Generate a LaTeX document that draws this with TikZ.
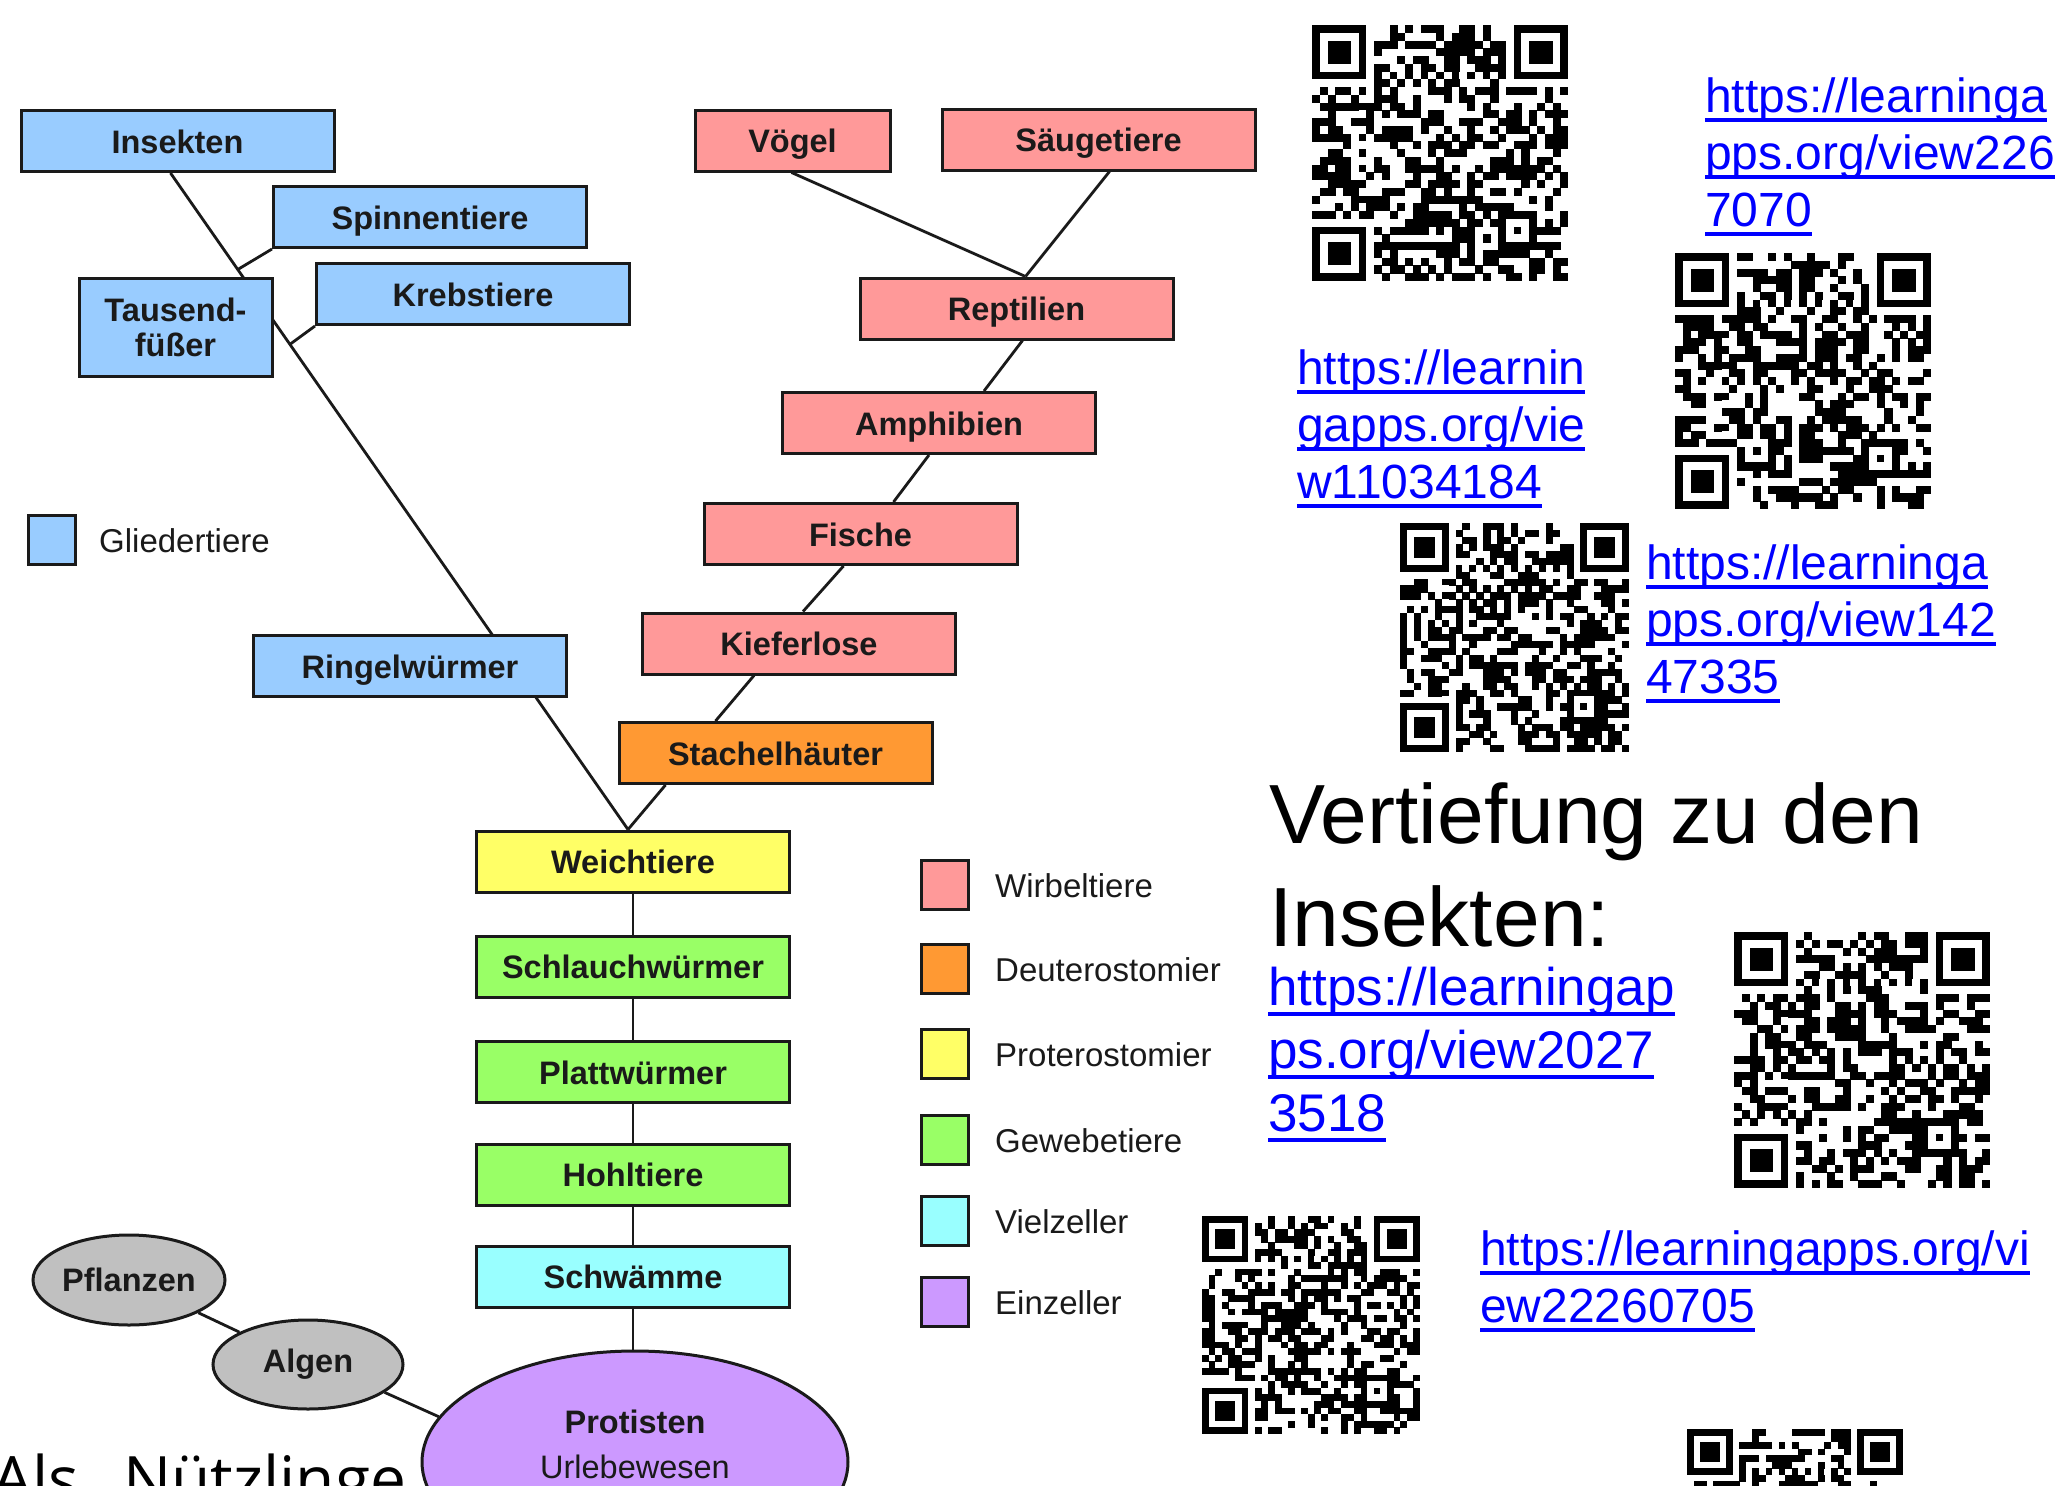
\documentclass[tikz,border=0pt]{standalone}
\usepackage{fontspec}
\setmainfont{Liberation Sans}
\newfontfamily\opensans{Open Sans}
\usetikzlibrary{shapes.geometric,backgrounds,calc}

\definecolor{cBlue}{HTML}{99CCFF}
\definecolor{cRed}{HTML}{FF9999}
\definecolor{cOrange}{HTML}{FF9933}
\definecolor{cYellow}{HTML}{FFFF66}
\definecolor{cGreen}{HTML}{99FF66}
\definecolor{cCyan}{HTML}{99FFFF}
\definecolor{cLilac}{HTML}{CC99FF}
\definecolor{cGray}{HTML}{C0C0C0}
\definecolor{cLink}{HTML}{0000FF}
\definecolor{cInk}{HTML}{1A1A1A}

\newcommand{\boxfont}{\fontsize{32.5}{35}\selectfont\bfseries}
\newcommand{\legfont}{\fontsize{33}{38}\selectfont}
\newcommand{\lk}[1]{\setbox0=\hbox{#1}\rlap{\rule[-0.2em]{\wd0}{0.07em}}\box0}

% pseudo QR code: x, y (top left), size, seed
\newcommand{\qrpattern}[4]{%
  \pgfmathsetmacro{\qm}{#3/33}%
  \begin{scope}[shift={(#1,#2)}, x=\qm pt, y=-\qm pt]
    \pgfmathsetseed{#4}%
    \foreach \i in {0,...,32}{\foreach \j in {0,...,32}{%
      \pgfmathtruncatemacro{\skipc}{((\i<8)&&(\j<8))||((\i<8)&&(\j>24))||((\i>24)&&(\j<8))||((\i>23)&&(\i<29)&&(\j>23)&&(\j<29))||(\i==6)||(\j==6)}%
      \ifnum\skipc=0
        \pgfmathtruncatemacro{\dk}{rnd<0.5}%
        \ifnum\dk=1 \fill (\j,\i) rectangle ++(1.04,1.04);\fi
      \fi}}
    \foreach \a/\b in {0/0,26/0,0/26}{%
      \fill (\a,\b) rectangle ++(7,7);
      \fill[white] (\a+1,\b+1) rectangle ++(5,5);
      \fill (\a+2,\b+2) rectangle ++(3,3);}
    \foreach \k in {8,10,...,24}{%
      \fill (\k,6) rectangle ++(1,1);
      \fill (6,\k) rectangle ++(1,1);}
    \fill (24,24) rectangle ++(5,5);
    \fill[white] (25,25) rectangle ++(3,3);
    \fill (26,26) rectangle ++(1,1);
  \end{scope}}

\begin{document}
\begin{tikzpicture}[x=1pt,y=-1pt,
  boxbase/.style={draw=cInk, line width=3pt, inner sep=0pt, font=\boxfont, text=cInk},
  box/.style={boxbase, minimum width=313pt, minimum height=61pt, text height=24pt, text depth=0pt},
  oval/.style={ellipse, draw=cInk, line width=3pt, inner sep=0pt, font=\boxfont, text=cInk, fill=cGray},
  conn/.style={draw=cInk, line width=2.8pt},
  legsq/.style={draw=cInk, line width=3pt, minimum width=47pt, minimum height=49pt, inner sep=0pt},
  legtxt/.style={anchor=base west, inner sep=0pt, font=\legfont, text=cInk},
  link/.style={anchor=base west, inner sep=0pt, text=cLink},
]
\useasboundingbox (0,0) rectangle (2065,1486);
\clip (0,0) rectangle (2065,1486);

% ---- tree boxes
\node[box, fill=cBlue] (ins) at (177.5,141) {Insekten};
\node[box, fill=cBlue] (spin) at (430,217) {Spinnentiere};
\node[boxbase, fill=cBlue, minimum width=193pt, minimum height=98pt, align=center] (taus) at (175.5,327) {Tausend-\\füßer};
\node[box, fill=cBlue] (kreb) at (473,294) {Krebstiere};
\node[box, fill=cBlue] (ring) at (410,666) {Ringelwürmer};
\node[box, fill=cRed, minimum width=195pt] (voeg) at (792.5,140.5) {Vögel};
\node[box, fill=cRed] (saeu) at (1098.5,139.5) {Säugetiere};
\node[box, fill=cRed] (rept) at (1016.5,308.5) {Reptilien};
\node[box, fill=cRed] (amph) at (939,423) {Amphibien};
\node[box, fill=cRed] (fisc) at (860.5,534) {Fische};
\node[box, fill=cRed] (kief) at (799,643.5) {Kieferlose};
\node[box, fill=cOrange] (stach) at (775.5,753) {Stachelhäuter};
\node[box, fill=cYellow] (weich) at (633,861.5) {Weichtiere};
\node[box, fill=cGreen] (schl) at (633,966.5) {Schlauchwürmer};
\node[box, fill=cGreen] (platt) at (633,1072) {Plattwürmer};
\node[box, fill=cGreen] (hohl) at (633,1174.5) {Hohltiere};
\node[box, fill=cCyan] (schw) at (633,1276.5) {Schwämme};
\node[oval, minimum width=192pt, minimum height=90pt] (pfl) at (129,1280) {Pflanzen};
\node[oval, minimum width=190pt, minimum height=89pt] (alg) at (308,1364.5) {Algen};

\node[anchor=base west, inner sep=0pt, font=\opensans\fontsize{64}{70}\selectfont, text=black] (nutz) at (-8,1502) {Als\hspace{44pt}Nützlinge};

\node[oval, fill=cLilac, minimum width=426pt, minimum height=222pt] (prot) at (635,1462) {};
\node[inner sep=0pt, align=center, font=\fontsize{32.5}{45}\selectfont, text=cInk] (protxt) at (635,1444.5) {\textbf{Protisten}\\Urlebewesen};

% ---- connector helper points
\coordinate (gtop) at ([xshift=-7pt]ins.south);
\coordinate (gbot) at ([xshift=-5pt]weich.north);
\coordinate (rtop) at ([xshift=9pt]rept.north);

\begin{pgfonlayer}{background}
  \fill[white] (0,0) rectangle (2065,1486);
  \draw[conn] (gtop) -- (gbot);
  \draw[conn] (spin.south west) -- ($(gtop)!0.147!(gbot)$);
  \draw[conn] (kreb.south west) -- ($(gtop)!0.261!(gbot)$);
  \draw[conn] ([xshift=-1pt]voeg.south) -- (rtop);
  \draw[conn] ([xshift=11pt]saeu.south) -- (rtop);
  \draw[conn] ([xshift=6pt]rept.south) -- ([xshift=45pt]amph.north);
  \draw[conn] ([xshift=-10pt]amph.south) -- ([xshift=33pt]fisc.north);
  \draw[conn] ([xshift=-17pt]fisc.south) -- ([xshift=4pt]kief.north);
  \draw[conn] ([xshift=-45pt]kief.south) -- ([xshift=-60pt]stach.north);
  \draw[conn] ([xshift=-110pt]stach.south) -- (gbot);
  \draw[conn] (weich.south) -- (schl.north);
  \draw[conn] (schl.south) -- (platt.north);
  \draw[conn] (platt.south) -- (hohl.north);
  \draw[conn] (hohl.south) -- (schw.north);
  \draw[conn] (schw.south) -- (schw.south |- prot.north);
  \draw[conn] (pfl) -- (alg);
  \draw[conn] (alg.-20) -- (prot.167);
\end{pgfonlayer}

% ---- legends
\node[legsq, fill=cBlue] (lgl) at (51.5,539.5) {};
\node[legtxt] (tgl) at (99,552) {Gliedertiere};

\node[legsq, fill=cRed] (lwi) at (945,885) {};
\node[legtxt] (twi) at (995,897) {Wirbeltiere};
\node[legsq, fill=cOrange] (lde) at (945,969) {};
\node[legtxt] (tde) at (995,981) {Deuterostomier};
\node[legsq, fill=cYellow] (lpr) at (945,1054) {};
\node[legtxt] (tpr) at (995,1066) {Proterostomier};
\node[legsq, fill=cGreen] (lge) at (945,1140) {};
\node[legtxt] (tge) at (995,1152) {Gewebetiere};
\node[legsq, fill=cCyan] (lvi) at (945,1221) {};
\node[legtxt] (tvi) at (995,1233) {Vielzeller};
\node[legsq, fill=cLilac] (lei) at (945,1302) {};
\node[legtxt] (tei) at (995,1314) {Einzeller};

% ---- right column: links and QR codes
\node[link, font=\fontsize{48}{57}\selectfont] (l1) at (1705,112) {\begin{tabular}[t]{@{}l@{}}\lk{https://learninga}\\\lk{pps.org/view226}\\\lk{7070}\end{tabular}};
\node[link, font=\fontsize{48}{57}\selectfont] (l2) at (1297,384) {\begin{tabular}[t]{@{}l@{}}\lk{https://learnin}\\\lk{gapps.org/vie}\\\lk{w11034184}\end{tabular}};
\node[link, font=\fontsize{48}{57}\selectfont] (l3) at (1646,579) {\begin{tabular}[t]{@{}l@{}}\lk{https://learninga}\\\lk{pps.org/view142}\\\lk{47335}\end{tabular}};
\node[anchor=base west, inner sep=0pt, font=\fontsize{84}{103}\selectfont, text=black] (head) at (1269,843) {\begin{tabular}[t]{@{}l@{}}Vertiefung zu den\\Insekten:\end{tabular}};
\node[link, font=\fontsize{53}{63}\selectfont] (l4) at (1268,1005) {\begin{tabular}[t]{@{}l@{}}\lk{https://learningap}\\\lk{ps.org/view2027}\\\lk{3518}\end{tabular}};
\node[link, font=\fontsize{48}{57}\selectfont] (l5) at (1480,1265) {\begin{tabular}[t]{@{}l@{}}\lk{https://learningapps.org/vi}\\\lk{ew22260705}\end{tabular}};

\qrpattern{1312}{25}{256}{11}
\qrpattern{1675}{253}{256}{23}
\qrpattern{1400}{523}{229}{37}
\qrpattern{1734}{932}{256}{41}
\qrpattern{1202}{1216}{218}{53}
\qrpattern{1687}{1429}{216}{67}
\end{tikzpicture}
\end{document}
